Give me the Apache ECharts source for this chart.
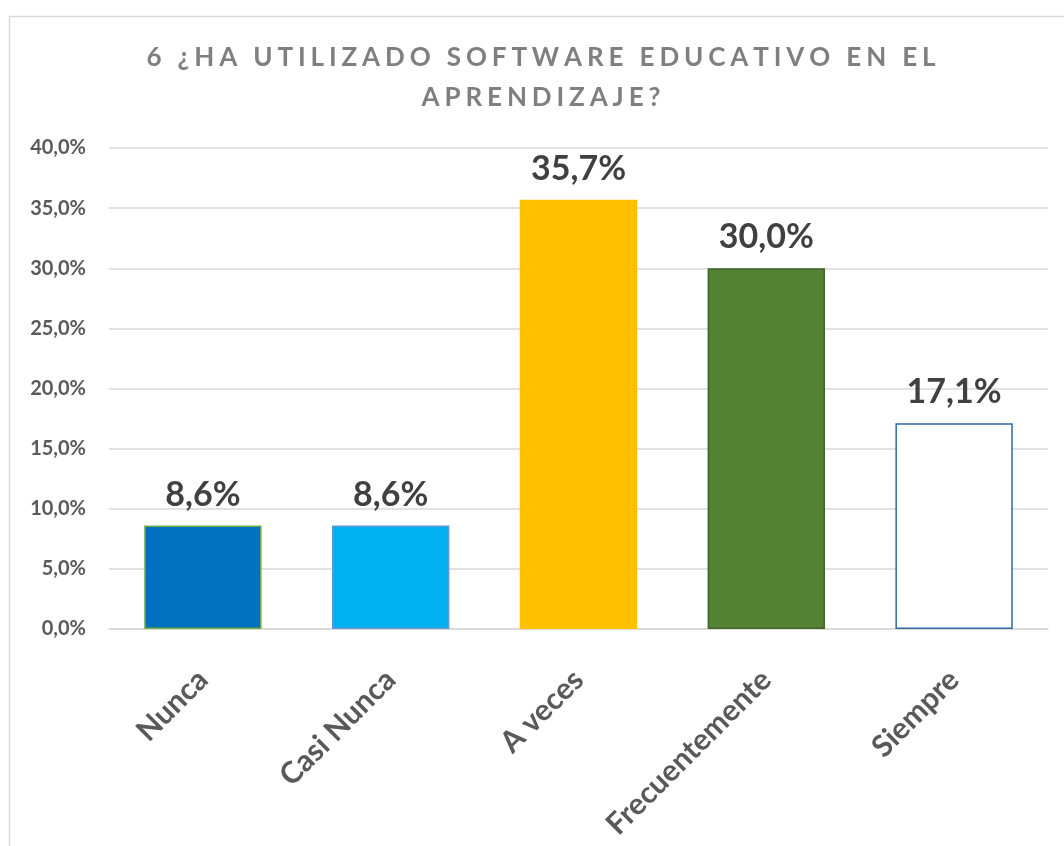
<!DOCTYPE html>
<html>
<head>
<meta charset="utf-8">
<script src="https://cdn.jsdelivr.net/npm/echarts@6/dist/echarts.min.js"></script>
<style>
  html, body { margin: 0; padding: 0; background: #fff; }
  #chart { width: 1064px; height: 846px; }
</style>
</head>
<body>
<div id="chart"></div>
<script>
const categories = ['Nunca', 'Casi Nunca', 'A veces', 'Frecuentemente', 'Siempre'];
const percentages = [8.6, 8.6, 35.7, 30.0, 17.1];
const titleLines = ['6 ¿HA UTILIZADO SOFTWARE EDUCATIVO EN EL', 'APRENDIZAJE?'];

// estilos de cada barra (relleno y borde)
const fillColors = ['#0070C0', '#00B0F0', '#FFC000', '#548235', '#FFFFFF'];
const edgeColors = ['#70AD47', '#5B9BD5', '#FFC000', '#3F6428', '#2F6A9E'];

const textGray = '#595959';

// Excel pone espaciado entre letras en el título
const spaced = s => s.split('').join('\u2009\u200A');

const fmt = v => v.toFixed(1).replace('.', ',') + '%';

const chart = echarts.init(document.getElementById('chart'));

const option = {
  animation: false,
  backgroundColor: '#fff',
  graphic: [
    {
      type: 'rect',
      z: -1,
      shape: { x: 9.5, y: 16.5, width: 1200, height: 1000 },
      style: { fill: 'none', stroke: '#d9d9d9', lineWidth: 1.5 }
    },
    {
      type: 'text',
      x: 541,
      y: 38,
      style: {
        text: titleLines.map(spaced).join('\n'),
        align: 'center',
        verticalAlign: 'top',
        lineHeight: 40,
        fontFamily: 'Lato',
        fontWeight: 'bold',
        fontSize: 26,
        fill: '#7f7f7f'
      }
    }
  ],
  grid: {
    left: 109,
    right: 16,
    top: 148,
    bottom: 217
  },
  xAxis: {
    type: 'category',
    data: categories,
    axisLine: { show: true, lineStyle: { color: '#d9d9d9', width: 1.5 } },
    axisTick: { show: false },
    axisLabel: {
      interval: 0,
      rotate: 45,
      margin: 46,
      color: textGray,
      fontFamily: 'Lato',
      fontWeight: 'bold',
      fontSize: 30
    }
  },
  yAxis: {
    type: 'value',
    min: 0,
    max: 40,
    interval: 5,
    axisLine: { show: false },
    axisTick: { show: false },
    splitLine: { lineStyle: { color: '#d9d9d9', width: 1.5 } },
    axisLabel: {
      margin: 23,
      color: textGray,
      fontFamily: 'Lato',
      fontWeight: 'bold',
      fontSize: 20,
      formatter: fmt
    }
  },
  series: [{
    type: 'bar',
    barWidth: '62.5%',
    data: percentages.map((v, i) => ({
      value: v,
      itemStyle: {
        color: fillColors[i],
        borderColor: edgeColors[i],
        borderWidth: i === 2 ? 0 : 1.5
      }
    })),
    label: {
      show: true,
      position: 'top',
      distance: 14,
      color: '#404040',
      fontFamily: 'Lato',
      fontWeight: 'bold',
      fontSize: 34,
      formatter: p => fmt(p.value)
    }
  }]
};

chart.setOption(option);
</script>
</body>
</html>
